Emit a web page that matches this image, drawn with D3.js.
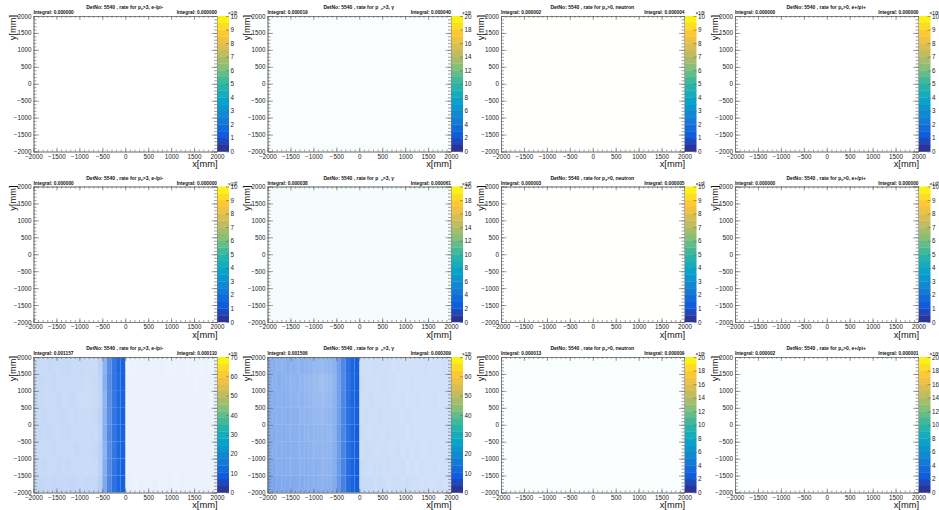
<!DOCTYPE html>
<html>
<head>
<meta charset="utf-8">
<script src="https://d3js.org/d3.v7.min.js"></script>
<style>
body { margin: 0; background: #fff; }
text { font-family: "Liberation Sans", Arial, sans-serif; fill: #111; }
.axis path, .axis line { stroke: #666; stroke-width: 0.6; fill: none; }
.axis text { font-size: 6.3px; font-family: "Liberation Sans", Arial, sans-serif; fill: #222; }
</style>
</head>
<body>
<script>
let particles = ['e-/pi-', '\u03B3', 'neutron', 'e+/pi+'];
let pzCuts = [[3, 3, 0, 0], [3, 3, 0, 0], [3, 3, 0, 0]];
let integralLeft = [
    ['0.000000', '0.000019', '0.000002', '0.000000'],
    ['0.000000', '0.000038', '0.000003', '0.000000'],
    ['0.001157', '0.001506', '0.000013', '0.000002']
];
let integralRight = [
    ['0.000000', '0.000040', '0.000004', '0.000000'],
    ['0.000000', '0.000061', '0.000005', '0.000000'],
    ['0.000110', '0.000309', '0.000009', '0.000001']
];
let zMax = [[10, 20, 10, 10], [10, 20, 10, 10], [70, 70, 20, 20]];
let zStep = [[1, 2, 1, 1], [1, 2, 1, 1], [10, 10, 2, 2]];
let axisTicks = [-2000, -1500, -1000, -500, 0, 500, 1000, 1500, 2000];
let axisMinor = d3.range(-2000, 2001, 100);

// z value the typical hit has in each panel, picks the palette colour
let hitZ = [[1, 8, 7, 1], [1, 8, 7, 1], [9, 9, 8, 8]];

// percent of bins with a hit, top row first
let hitsElectron = [
    [22,23,22,24,23,22,23,24,22,23,23,22,22,22,27,47,69,84,93,96,  7,8,8,8,8,8,8,8,8,7,8,8,8,7,8,8,7,8,7,7],
    [23,24,23,22,24,23,23,22,23,23,22,21,22,23,26,49,71,85,92,97,  8,8,8,8,8,8,8,8,8,8,8,8,8,8,8,7,8,8,8,7],
    [24,23,22,23,23,24,22,23,24,22,21,21,21,22,25,46,70,83,93,96,  8,8,8,8,8,8,8,8,8,8,8,8,8,8,8,8,8,8,7,8],
    [23,23,24,23,22,23,24,23,22,23,22,22,22,23,27,48,69,86,92,97,  8,8,8,8,8,8,8,8,8,8,8,8,8,8,8,8,8,8,8,7],
    [22,24,23,24,23,22,23,24,23,22,23,23,23,22,26,50,72,85,93,96,  8,8,8,8,8,8,8,8,8,8,8,8,8,8,8,8,8,8,8,8],
    [23,22,23,23,24,23,23,22,23,24,23,23,23,24,28,47,70,84,94,97,  8,8,8,8,8,8,8,8,8,8,8,8,8,8,8,8,8,8,8,8],
    [24,23,24,23,23,24,23,24,23,23,23,22,23,23,28,50,72,86,93,98,  8,8,8,8,8,8,8,8,8,8,8,8,8,8,8,8,8,8,8,8],
    [25,25,24,24,25,24,24,24,25,24,23,24,24,24,29,53,74,88,95,98,  9,8,8,9,8,8,9,8,8,9,8,8,9,8,8,8,8,8,8,8]
];
let hitsGamma = [
    [48,49,48,47,49,48,46,48,47,46,44,43,44,46,48,60,74,88,95,98,  20,20,20,21,20,20,20,19,20,19,19,19,19,19,20,19,19,19,20,19],
    [49,48,50,48,47,46,47,45,44,43,41,40,40,42,46,58,73,87,94,98,  21,20,20,20,20,21,20,20,19,19,19,20,19,19,19,19,19,19,19,19],
    [49,50,48,49,48,47,46,47,45,44,42,41,41,43,47,59,74,88,95,98,  20,20,21,20,20,20,20,19,19,20,19,19,20,19,19,19,20,19,19,19],
    [50,49,49,48,49,48,48,46,47,45,44,43,44,45,48,60,75,88,94,98,  20,21,20,20,21,20,20,20,20,19,20,19,19,19,19,19,19,19,19,19],
    [49,51,49,50,48,49,48,48,46,47,46,45,46,44,48,61,75,88,95,99,  21,20,20,21,20,20,21,20,20,20,19,20,19,19,19,19,19,19,19,19],
    [51,49,50,49,50,49,48,48,48,47,45,46,45,46,49,61,76,89,95,98,  20,21,21,20,20,21,20,20,21,19,20,19,20,19,19,20,19,19,19,19],
    [52,52,50,51,50,49,50,48,49,48,48,47,46,47,50,62,76,89,96,99,  22,21,20,21,21,20,21,20,20,21,19,20,19,20,19,19,20,19,19,19],
    [56,54,53,52,52,52,51,51,50,50,49,48,48,48,52,64,78,90,96,99,  23,22,22,21,22,21,20,21,21,20,21,20,20,19,20,19,19,20,19,19]
];
let hitsFaint = [
    [[0], [2.5], [0.4], [0]],
    [[0], [4], [0.5], [0]],
    [hitsElectron, hitsGamma, [1.5], [0.3]]
];

// ROOT kBird palette stops
let birdStops = ['#352a87', '#0f5cdd', '#1481d4', '#06a4ca', '#2eb7a4', '#87bf77', '#d1bb59', '#fec832', '#f9fb0e'];
let bird = d3.scaleLinear()
    .domain(d3.range(0, 9).map(function(i) { return i / 8; }))
    .range(birdStops)
    .interpolate(d3.interpolateRgb);

let plotX = [33.5, 267.5, 501, 735];
let plotY = [16, 186.5, 357];
let plotW = 183.5;
let plotH = 135.5;
let paletteW = 11.5;
let nBands = 20;

let svg = d3.select('body').append('svg')
    .attr('width', 939)
    .attr('height', 510);

function drawTitle(g, row, col) {
    let title = g.append('text')
        .attr('x', plotW / 2 - 0.5)
        .attr('y', -7)
        .attr('text-anchor', 'middle')
        .style('font-size', '5px')
        .style('font-weight', 'bold');
    title.append('tspan').text('DetNo: 5540 , rate for p' + (col == 1 ? '\u00A0\u00A0' : ''));
    title.append('tspan').attr('dy', 1).style('font-size', '3.6px').text('z');
    title.append('tspan').attr('dy', -1).text('>' + pzCuts[row][col] + ', ' + particles[col]);
    g.append('text')
        .attr('x', 0)
        .attr('y', -1.8)
        .style('font-size', '4.8px')
        .style('font-weight', 'bold')
        .text('Integral: ' + integralLeft[row][col]);
    g.append('text')
        .attr('x', plotW)
        .attr('y', -1.8)
        .attr('text-anchor', 'end')
        .style('font-size', '4.8px')
        .style('font-weight', 'bold')
        .text('Integral: ' + integralRight[row][col]);
}

function drawHits(g, row, col, xScale, yScale) {
    let hits = hitsFaint[row][col];
    if (!Array.isArray(hits[0])) hits = [hits];
    let color = bird(hitZ[row][col] / zMax[row][col]);
    let binH = 4000 / hits.length;
    for (let r = 0; r < hits.length; ++r) {
        let binW = 4000 / hits[r].length;
        for (let c = 0; c < hits[r].length; ++c) {
            if (hits[r][c] == 0) continue;
            let x0 = -2000 + c * binW;
            let y0 = 2000 - r * binH;
            g.append('rect')
                .attr('x', xScale(x0))
                .attr('y', yScale(y0))
                .attr('width', xScale(x0 + binW) - xScale(x0))
                .attr('height', yScale(y0 - binH) - yScale(y0))
                .attr('fill', color)
                .attr('fill-opacity', hits[r][c] / 100);
        }
    }
}

function drawAxes(g, xScale, yScale) {
    // major and minor ticks on all four sides, pointing inside like ROOT does
    g.append('g').attr('class', 'axis').attr('transform', 'translate(0,' + plotH + ')')
        .call(d3.axisBottom(xScale).tickValues(axisTicks).tickSizeInner(-4).tickSizeOuter(0).tickPadding(3)
            .tickFormat(function(d) { return d3.format('d')(d).replace('-', '\u2212'); }));
    g.append('g').attr('class', 'axis').attr('transform', 'translate(0,' + plotH + ')')
        .call(d3.axisBottom(xScale).tickValues(axisMinor).tickSizeInner(-2).tickSizeOuter(0).tickFormat(''));
    g.append('g').attr('class', 'axis')
        .call(d3.axisTop(xScale).tickValues(axisTicks).tickSizeInner(-4).tickSizeOuter(0).tickFormat(''));
    g.append('g').attr('class', 'axis')
        .call(d3.axisTop(xScale).tickValues(axisMinor).tickSizeInner(-2).tickSizeOuter(0).tickFormat(''));
    g.append('g').attr('class', 'axis')
        .call(d3.axisLeft(yScale).tickValues(axisTicks).tickSizeInner(-5.5).tickSizeOuter(0).tickPadding(2)
            .tickFormat(function(d) { return d3.format('d')(d).replace('-', '\u2212'); }));
    g.append('g').attr('class', 'axis')
        .call(d3.axisLeft(yScale).tickValues(axisMinor).tickSizeInner(-3).tickSizeOuter(0).tickFormat(''));
    g.append('g').attr('class', 'axis').attr('transform', 'translate(' + plotW + ',0)')
        .call(d3.axisRight(yScale).tickValues(axisTicks).tickSizeInner(-5.5).tickSizeOuter(0).tickFormat(''));
    g.append('g').attr('class', 'axis').attr('transform', 'translate(' + plotW + ',0)')
        .call(d3.axisRight(yScale).tickValues(axisMinor).tickSizeInner(-3).tickSizeOuter(0).tickFormat(''));

    g.append('text')
        .attr('x', plotW + 0.5)
        .attr('y', plotH + 15.5)
        .attr('text-anchor', 'end')
        .style('font-size', '9.3px')
        .text('x[mm]');
    g.append('text')
        .attr('transform', 'translate(-17.5,-1) rotate(-90)')
        .attr('text-anchor', 'end')
        .style('font-size', '9.3px')
        .text('y[mm]');
}

function drawPalette(g, row, col) {
    let top = zMax[row][col];
    let zScale = d3.scaleLinear().domain([0, top]).range([plotH, 0]);
    let bands = d3.range(0, nBands);
    g.selectAll('rect.band')
        .data(bands)
        .enter().append('rect')
        .attr('class', 'band')
        .attr('x', plotW + 0.5)
        .attr('y', function(d) { return zScale((d + 1) * top / nBands); })
        .attr('width', paletteW)
        .attr('height', plotH / nBands + 0.3)
        .attr('fill', function(d) { return bird((d + 0.5) / nBands); });
    let paletteAxis = g.append('g').attr('class', 'axis')
        .attr('transform', 'translate(' + (plotW + 0.5 + paletteW) + ',0)')
        .call(d3.axisRight(zScale).tickValues(d3.range(0, top + 1, zStep[row][col]))
            .tickSizeInner(-3).tickSizeOuter(0).tickPadding(1.5));
    paletteAxis.select('.domain').remove();
    let exponent = g.append('text')
        .attr('x', plotW + paletteW - 0.5)
        .attr('y', -1)
        .style('font-size', '4.8px');
    exponent.append('tspan').text('\u00D710');
    exponent.append('tspan').attr('dy', -1.5).attr('dx', -2.5).style('font-size', '3.2px').text('\u22129');
}

for (let row = 0; row < plotY.length; ++row) {
    for (let col = 0; col < plotX.length; ++col) {
        let g = svg.append('g')
            .attr('transform', 'translate(' + plotX[col] + ',' + plotY[row] + ')');
        let xScale = d3.scaleLinear().domain([-2000, 2000]).range([0, plotW]);
        let yScale = d3.scaleLinear().domain([-2000, 2000]).range([plotH, 0]);
        drawHits(g, row, col, xScale, yScale);
        drawAxes(g, xScale, yScale);
        drawPalette(g, row, col);
        drawTitle(g, row, col);
    }
}
</script>
</body>
</html>
